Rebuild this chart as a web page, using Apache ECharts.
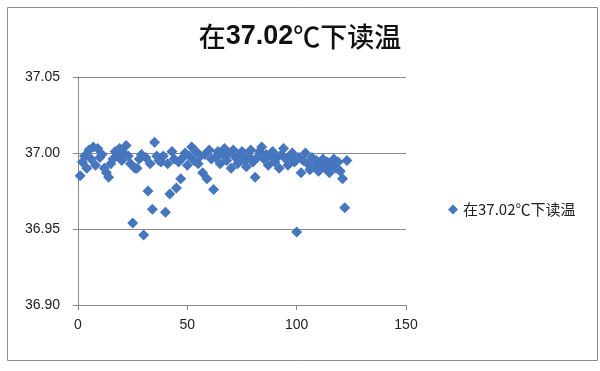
<!DOCTYPE html>
<html>
<head>
<meta charset="utf-8">
<script src="https://cdn.jsdelivr.net/npm/echarts@6/dist/echarts.min.js"></script>
<style>html,body{margin:0;padding:0;background:#fff;}#c{width:600px;height:371px;}</style>
</head>
<body>
<div id="c"></div>
<script>
var titleParts = ['在', '37.02', '℃下读温'];
var seriesName = '在37.02℃下读温';
var xValues = [];
for (var i = 1; i <= 123; i++) xValues.push(i);
var yValues = [
36.985,36.994,36.998,36.990,37.002,36.996,37.004,36.992,37.003,36.997,
36.999,36.990,36.987,36.984,36.993,36.996,37.001,36.998,37.003,36.995,
37.000,37.005,36.998,36.993,36.954,36.990,36.990,36.996,36.999,36.946,
36.997,36.975,36.993,36.963,37.007,36.998,36.995,36.994,36.998,36.961,
36.993,36.973,37.001,36.996,36.977,36.994,36.983,36.997,37.000,36.992,
36.998,37.004,36.995,37.001,36.993,36.998,36.987,36.999,36.983,37.002,
36.996,36.976,36.997,37.001,36.993,36.999,37.003,36.995,37.000,36.990,
37.002,36.997,36.993,36.999,37.001,36.995,36.991,36.998,37.002,36.994,
36.984,36.997,37.001,37.004,36.996,36.999,36.992,36.998,37.001,36.994,
36.997,36.990,36.999,37.003,36.996,36.992,36.998,37.000,36.994,36.948,
36.997,36.987,36.995,37.000,36.993,36.989,36.997,36.991,36.995,36.988,
36.993,36.996,36.990,36.994,36.987,36.992,36.996,36.990,36.994,36.988,
36.983,36.964,36.995
];
var xTicks = {min: 0, max: 150, interval: 50};
var yTicks = {min: 36.90, max: 37.05, interval: 0.05};

var data = xValues.map(function (x, i) { return [x, yValues[i]]; });
var font = '"Liberation Sans", "Noto Sans CJK SC", sans-serif';
var cjk = '"Noto Sans CJK SC", sans-serif';
var chart = echarts.init(document.getElementById('c'));
chart.setOption({
  animation: false,
  backgroundColor: '#fff',
  title: {
    text: '{a|' + titleParts[0] + '}{b|' + titleParts[1] + '}{a|' + titleParts[2] + '}',
    left: 'center', top: 18,
    textStyle: {
      rich: {
        a: {fontSize: 27, fontWeight: 500, color: '#111', fontFamily: cjk},
        b: {fontSize: 27, fontWeight: 'bold', color: '#111', fontFamily: font}
      }
    }
  },
  graphic: [{
    type: 'rect', left: 5, top: 5, z: -1,
    shape: {width: 590, height: 353},
    style: {fill: 'none', stroke: '#8c8c8c', lineWidth: 1}
  }],
  legend: {
    left: 443, top: 197, itemWidth: 10, itemHeight: 10, itemGap: 4,
    textStyle: {fontSize: 15, color: '#222', fontFamily: cjk},
    data: [{name: seriesName, icon: 'diamond'}]
  },
  grid: {left: 78, right: 194, top: 77, bottom: 66},
  xAxis: {
    type: 'value', min: xTicks.min, max: xTicks.max, interval: xTicks.interval,
    axisLine: {show: true, lineStyle: {color: '#888'}},
    axisTick: {show: true, length: 5, lineStyle: {color: '#888'}},
    splitLine: {show: false},
    axisLabel: {fontSize: 14, color: '#222', margin: 13, fontFamily: font}
  },
  yAxis: {
    type: 'value', min: yTicks.min, max: yTicks.max, interval: yTicks.interval,
    axisLine: {show: true, lineStyle: {color: '#888'}},
    axisTick: {show: true, length: 5, lineStyle: {color: '#888'}},
    splitLine: {show: true, lineStyle: {color: '#8a8a8a'}},
    axisLabel: {fontSize: 14, color: '#222', margin: 18, fontFamily: font,
      formatter: function (v) { return v.toFixed(2); }}
  },
  series: [{
    name: seriesName, type: 'scatter', symbol: 'diamond', symbolSize: 11,
    itemStyle: {color: '#4676BE', opacity: 1},
    data: data
  }]
});
</script>
</body>
</html>
